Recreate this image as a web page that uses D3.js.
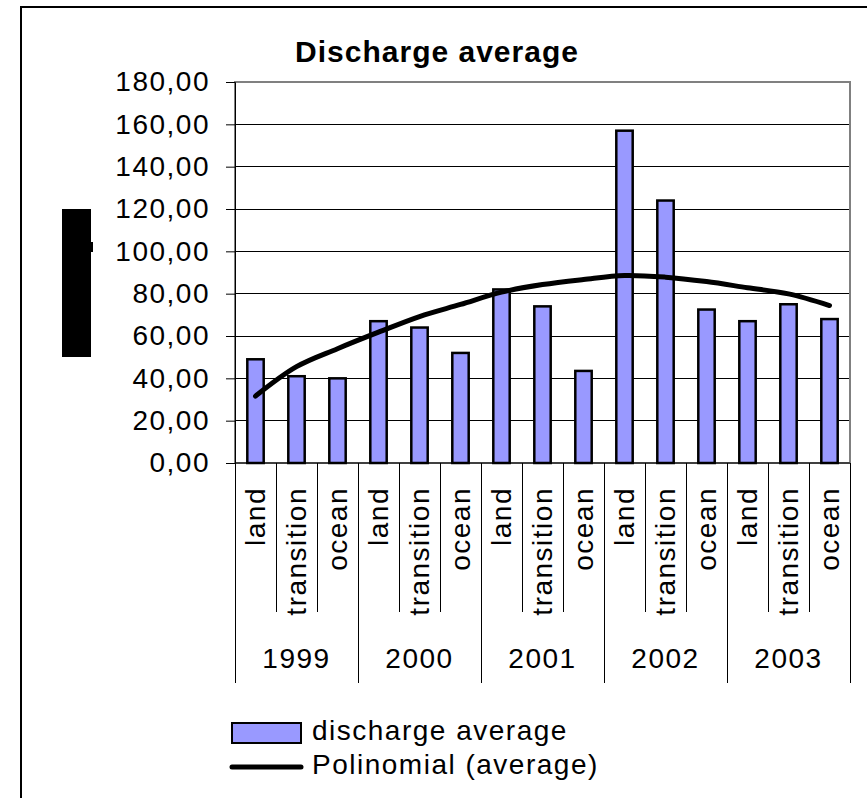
<!DOCTYPE html>
<html>
<head>
<meta charset="utf-8">
<script src="https://cdn.jsdelivr.net/npm/d3@7"></script>
<style>
  html, body { margin: 0; padding: 0; background: #fff; }
  svg { display: block; font-family: "Liberation Sans", Arial, sans-serif; }
</style>
</head>
<body>
<svg id="chart" width="867" height="798"></svg>
<script>
// Discharge average per zone, grouped by year
const years = ["1999", "2000", "2001", "2002", "2003"];
const zones = ["land", "transition", "ocean"];
const dischargeValues = [
  49, 41, 40,
  67, 64, 52,
  82, 74, 43.5,
  157, 124, 72.5,
  67, 75, 68
];
// polynomial trend evaluated at each category
const trendValues = [
  31.6, 45.5, 54, 61.8, 69.2,
  74.9, 80.7, 84.3, 86.7, 88.6,
  87.8, 85.7, 82.8, 79.9, 74.4
];
const yTicks = [0, 20, 40, 60, 80, 100, 120, 140, 160, 180];

const categories = [];
years.forEach(y => zones.forEach(z => categories.push({ year: y, zone: z })));

const svg = d3.select("#chart");
const plotLeft = 235, plotRight = 850, plotTop = 82, plotBottom = 463;

const x = d3.scaleBand()
  .domain(d3.range(categories.length))
  .range([plotLeft, plotRight])
  .paddingInner(0.6)
  .paddingOuter(0.3);
const step = x.step();
const cx = i => x(i) + x.bandwidth() / 2;

const y = d3.scaleLinear().domain([0, 180]).range([plotBottom, plotTop]);

const locale = d3.formatLocale({ decimal: ",", thousands: ".", grouping: [3], currency: ["", ""] });
const fmt = locale.format(".2f");

// outer frame
svg.append("rect")
  .attr("x", 21).attr("y", 7).attr("width", 900).attr("height", 900)
  .attr("fill", "none").attr("stroke", "#000").attr("stroke-width", 2);

// title
svg.append("text")
  .attr("x", 437).attr("y", 62)
  .attr("text-anchor", "middle")
  .attr("font-size", 30).attr("font-weight", "bold")
  .attr("letter-spacing", 1)
  .text("Discharge average");

// axis title box
svg.append("rect").attr("x", 62).attr("y", 209).attr("width", 29).attr("height", 148).attr("fill", "#000");
svg.append("rect").attr("x", 90).attr("y", 242).attr("width", 3).attr("height", 10).attr("fill", "#000");

// gridlines
svg.append("g").selectAll("line")
  .data(yTicks.filter(t => t > 0 && t < 180))
  .join("line")
  .attr("x1", plotLeft).attr("x2", plotRight)
  .attr("y1", d => y(d)).attr("y2", d => y(d))
  .attr("stroke", "#000").attr("stroke-width", 1).attr("shape-rendering", "crispEdges");

// plot area border
svg.append("rect")
  .attr("x", plotLeft).attr("y", plotTop).attr("width", plotRight - plotLeft).attr("height", plotBottom - plotTop)
  .attr("fill", "none").attr("stroke", "#808080").attr("stroke-width", 2);

// y axis
const yAxis = d3.axisLeft(y).tickValues(yTicks).tickFormat(fmt).tickSize(9).tickPadding(16);
const gy = svg.append("g").attr("transform", `translate(${plotLeft},0)`).call(yAxis);
gy.select(".domain").attr("stroke", "#000");
gy.selectAll(".tick line").attr("stroke", "#000");
gy.selectAll(".tick text")
  .attr("font-size", 28).attr("letter-spacing", 1.5)
  .attr("font-family", "'Liberation Sans', Arial, sans-serif")
  .attr("fill", "#000");

// x axis line
svg.append("line")
  .attr("x1", plotLeft).attr("x2", plotRight).attr("y1", plotBottom).attr("y2", plotBottom)
  .attr("stroke", "#000").attr("stroke-width", 1);

// bars
svg.append("g").selectAll("rect")
  .data(dischargeValues)
  .join("rect")
  .attr("x", (d, i) => x(i))
  .attr("y", d => y(d))
  .attr("width", x.bandwidth())
  .attr("height", d => y(0) - y(d))
  .attr("fill", "#9999ff")
  .attr("stroke", "#000").attr("stroke-width", 2.5);

// trend line
const line = d3.line()
  .x((d, i) => cx(i))
  .y(d => y(d))
  .curve(d3.curveCatmullRom);
svg.append("path")
  .datum(trendValues)
  .attr("d", line)
  .attr("fill", "none").attr("stroke", "#000").attr("stroke-width", 5)
  .attr("stroke-linecap", "round").attr("stroke-linejoin", "round");

// category separators
const boundaries = d3.range(categories.length + 1);
svg.append("g").selectAll("line")
  .data(boundaries)
  .join("line")
  .attr("x1", i => plotLeft + i * step).attr("x2", i => plotLeft + i * step)
  .attr("y1", plotBottom)
  .attr("y2", i => (i % zones.length === 0 ? 683 : 612))
  .attr("stroke", "#000").attr("stroke-width", 1).attr("shape-rendering", "crispEdges");

// zone labels
svg.append("g").selectAll("text")
  .data(categories)
  .join("text")
  .attr("transform", (d, i) => `translate(${cx(i)},487) rotate(-90)`)
  .attr("text-anchor", "end")
  .attr("dy", "0.35em")
  .attr("font-size", 28).attr("letter-spacing", 1.5)
  .text(d => d.zone);

// year labels
svg.append("g").selectAll("text")
  .data(years)
  .join("text")
  .attr("x", (d, i) => plotLeft + (i * 3 + 1.5) * step)
  .attr("y", 668)
  .attr("text-anchor", "middle")
  .attr("font-size", 28).attr("letter-spacing", 1.5)
  .text(d => d);

// legend
const lg = svg.append("g");
lg.append("rect").attr("x", 232).attr("y", 723).attr("width", 69).attr("height", 20)
  .attr("fill", "#9999ff").attr("stroke", "#000").attr("stroke-width", 2);
lg.append("text").attr("x", 312).attr("y", 740)
  .attr("font-size", 28).attr("letter-spacing", 1.5)
  .text("discharge average");
lg.append("line").attr("x1", 232).attr("x2", 301).attr("y1", 767).attr("y2", 767)
  .attr("stroke", "#000").attr("stroke-width", 5).attr("stroke-linecap", "round");
lg.append("text").attr("x", 312).attr("y", 774)
  .attr("font-size", 28).attr("letter-spacing", 1.5)
  .text("Polinomial (average)");
</script>
</body>
</html>
